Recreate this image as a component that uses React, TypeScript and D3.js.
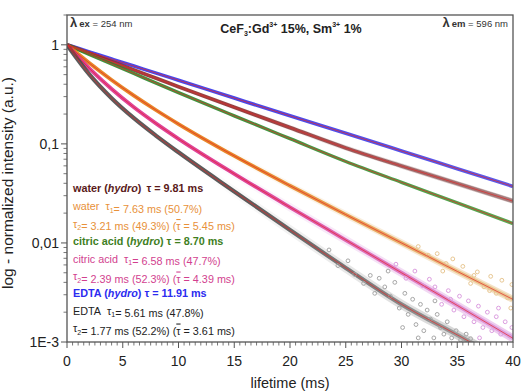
import * as d3 from "d3";

// sample times (ms) and values
const times = [0, 2, 4, 6, 8, 10, 15, 20, 25, 30, 35, 40];
const edtaHydro = [1, 0.848, 0.719, 0.61, 0.518, 0.439, 0.29, 0.192, 0.128, 0.0849, 0.0562, 0.0372];
const waterHydro = [1, 0.823, 0.677, 0.557, 0.459, 0.378, 0.234, 0.146, 0.091, 0.0598, 0.0398, 0.0264];
const citricHydro = [1, 0.8, 0.641, 0.513, 0.41, 0.329, 0.192, 0.1128, 0.0664, 0.0409, 0.0254, 0.0157];
const water = [1, 0.654, 0.442, 0.307, 0.2185, 0.1586, 0.0756, 0.0378, 0.0193, 0.01, 0.00516, 0.00269];
const citric = [1, 0.578, 0.358, 0.234, 0.16, 0.1124, 0.0498, 0.0229, 0.0107, 0.005, 0.00234, 0.00109];
const edta = [1, 0.503, 0.289, 0.1816, 0.1206, 0.0822, 0.0331, 0.0135, 0.0056, 0.0024, 0.00118, 0.00058];

// noisy tail points
const waterTail: [number, number][] = [
  [31.5, 0.0092], [32.4, 0.0075], [33.2, 0.0078], [34, 0.0062], [34.6, 0.0069],
  [35.5, 0.0058], [36.2, 0.0039], [36.8, 0.0051], [37.4, 0.0036], [38, 0.0046],
  [38.5, 0.0031], [39, 0.0042], [39.5, 0.0028], [39.9, 0.0038], [39.8, 0.0022],
  [37.9, 0.0033], [36.5, 0.0047], [33.7, 0.0052],
];
const citricTail: [number, number][] = [
  [29.5, 0.0061], [30.4, 0.0044], [31.2, 0.0052], [31.9, 0.0037], [32.5, 0.0043],
  [33, 0.0036], [33.6, 0.0024], [34.2, 0.0033], [34.7, 0.0021], [35.2, 0.0029],
  [35.6, 0.0018], [36, 0.0026], [36.5, 0.0016], [36.9, 0.0023], [37.3, 0.0014],
  [37.7, 0.002], [38.1, 0.0013], [38.5, 0.0018], [38.9, 0.0012], [39.3, 0.0016],
  [39.7, 0.00115], [39.9, 0.0014], [37, 0.0011], [38.7, 0.0022], [34.4, 0.0027],
];
const edtaTail: [number, number][] = [
  [23.5, 0.0085], [24.3, 0.0059], [25.2, 0.0066], [25.8, 0.0048], [26.6, 0.0039],
  [27.2, 0.0047], [28, 0.0044], [28.5, 0.0036], [29, 0.0029], [27.6, 0.0031],
  [29.4, 0.004], [29.8, 0.0022], [30.1, 0.0014], [30.3, 0.0031], [30.6, 0.0019],
  [31, 0.0027], [31.3, 0.0015], [31.5, 0.0011], [31.7, 0.0024], [32, 0.0013],
  [32.3, 0.0021], [32.6, 0.0017], [32.9, 0.0011], [33, 0.0026], [33.2, 0.0019],
  [33.5, 0.0014], [33.8, 0.0012], [34.1, 0.0016], [34.5, 0.0011], [34.9, 0.0013],
  [35.3, 0.00105], [35.8, 0.0012], [36.2, 0.00108], [28.8, 0.0052],
];

const xTicks = [0, 5, 10, 15, 20, 25, 30, 35, 40];
const yTicks = [1, 0.1, 0.01, 0.001];
const yTickLabels = ["1", "0,1", "0,01", "1E-3"];

const W = 521;
const H = 392;
const left = 67, right = 513, top = 15, bottom = 342;

const x = d3.scaleLinear().domain([0, 40]).range([left, right]);
const y = d3.scaleLog().domain([0.001, 2]).range([bottom, top]);

const series = [
  { id: "edtaH", values: edtaHydro, stops: ["#3434ea", "#4a4ae8"], width: 3.6, fuzz: 0, tail: [] as [number, number][] },
  { id: "waterH", values: waterHydro, stops: ["#8e2c2c", "#a07a7a"], width: 3.8, fuzz: 5, tail: [] as [number, number][] },
  { id: "citricH", values: citricHydro, stops: ["#2a8a2a", "#48a040"], width: 3.4, fuzz: 0, tail: [] as [number, number][] },
  { id: "water", values: water, stops: ["#e57a12", "#e8c792"], width: 3.8, fuzz: 7, tail: waterTail },
  { id: "citric", values: citric, stops: ["#dc2f8e", "#dc9ee0"], width: 3.8, fuzz: 8, tail: citricTail },
  { id: "edta", values: edta, stops: ["#4a4a4a", "#a6a6a6"], width: 4.2, fuzz: 9, tail: edtaTail },
];

const line = d3
  .line<number>()
  .x((_, i) => x(times[i]))
  .y((d) => y(d))
  .curve(d3.curveMonotoneX);

const font = "'Liberation Sans', Arial, sans-serif";

const Sub = ({ c }: { c: string }) => (
  <>
    <tspan fontSize={7} dy={2.5}>{c}</tspan>
    <tspan dy={-2.5}></tspan>
  </>
);

const Bar = () => <tspan style={{ textDecoration: "overline" }}>τ</tspan>;

export default function App() {
  const xMinor = d3.range(0, 40.001, 0.5).filter((t) => t % 5 !== 0);
  const yMinor: number[] = [];
  [0.001, 0.01, 0.1, 1].forEach((p) => {
    for (let k = 2; k <= 9; k++) if (p * k <= 2) yMinor.push(p * k);
  });
  const lx = 73;
  const ly = [192, 210, 227.5, 245, 262.5, 280, 297, 314.5, 332];

  return (
    <div style={{ position: "fixed", left: 0, top: 0 }}>
      <svg width={W} height={H} fontFamily={font} style={{ display: "block", background: "#fff" }}>
        <defs>
          <clipPath id="plot">
            <rect x={left} y={top} width={right - left} height={bottom - top} />
          </clipPath>
          {series.map((s) => (
            <linearGradient key={s.id} id={"g-" + s.id} gradientUnits="userSpaceOnUse" x1={x(0)} x2={x(40)} y1={0} y2={0}>
              <stop offset="0" stopColor={s.stops[0]} />
              <stop offset="0.4" stopColor={s.stops[0]} />
              <stop offset="1" stopColor={s.stops[1]} />
            </linearGradient>
          ))}
          {series.map((s) => (
            <linearGradient key={"f" + s.id} id={"f-" + s.id} gradientUnits="userSpaceOnUse" x1={x(0)} x2={x(40)} y1={0} y2={0}>
              <stop offset="0.3" stopColor={s.stops[1]} stopOpacity={0} />
              <stop offset="1" stopColor={s.stops[1]} stopOpacity={0.55} />
            </linearGradient>
          ))}
        </defs>

        <g clipPath="url(#plot)">
          {series.map((s) => (
            <g key={s.id}>
              {s.fuzz > 0 && (
                <path d={line(s.values) ?? ""} fill="none" stroke={`url(#f-${s.id})`} strokeWidth={s.fuzz} />
              )}
              <path d={line(s.values) ?? ""} fill="none" stroke={`url(#g-${s.id})`} strokeWidth={s.width} strokeOpacity={0.9} />
              {s.tail.map((p, i) => (
                <circle key={i} cx={x(p[0])} cy={y(p[1])} r={1.9} fill="none" stroke={s.stops[1]} strokeWidth={1} />
              ))}
            </g>
          ))}
          {series.map((s) => (
            <path key={"fit-" + s.id} d={line(s.values) ?? ""} fill="none" stroke="#e22828" strokeWidth={0.7} />
          ))}
        </g>

        {/* frame */}
        <rect x={left} y={top} width={right - left} height={bottom - top} fill="none" stroke="#555" strokeWidth={1.3} />

        {/* x axis */}
        {xTicks.map((t) => (
          <g key={t}>
            <line x1={x(t)} x2={x(t)} y1={bottom} y2={bottom + 6} stroke="#555" strokeWidth={1} />
            <text x={x(t)} y={366} textAnchor="middle" fontSize={14} fill="#222">{t}</text>
          </g>
        ))}
        {xMinor.map((t) => (
          <line key={t} x1={x(t)} x2={x(t)} y1={bottom} y2={bottom + 3.5} stroke="#555" strokeWidth={0.8} />
        ))}
        <text x={290} y={388} textAnchor="middle" fontSize={14.5} fill="#222">lifetime (ms)</text>

        {/* y axis */}
        {yTicks.map((v, i) => (
          <g key={v}>
            <line x1={left - 6} x2={left} y1={y(v)} y2={y(v)} stroke="#555" strokeWidth={1} />
            <text x={left - 8} y={y(v) + 5} textAnchor="end" fontSize={14} fill="#222">{yTickLabels[i]}</text>
          </g>
        ))}
        {yMinor.map((v) => (
          <line key={v} x1={left - 3.5} x2={left} y1={y(v)} y2={y(v)} stroke="#555" strokeWidth={0.8} />
        ))}
        <text transform={`translate(13,${183}) rotate(-90)`} textAnchor="middle" fontSize={15.5} fill="#222">
          log - normalized intensity (a.u.)
        </text>

        {/* header texts */}
        <text x={70} y={27} fill="#333">
          <tspan fontSize={13} fontWeight="bold">λ</tspan>
          <tspan fontSize={9.5} fontWeight="bold" dx={2}>ex</tspan>
          <tspan fontSize={9.5}> = 254 nm</tspan>
        </text>
        <text x={508} y={27} fill="#333" textAnchor="end">
          <tspan fontSize={13} fontWeight="bold">λ</tspan>
          <tspan fontSize={9.5} fontWeight="bold" dx={2}>em</tspan>
          <tspan fontSize={9.5}> = 596 nm</tspan>
        </text>
        <text x={291} y={33} textAnchor="middle" fontSize={12.5} fontWeight="bold" fill="#222">
          CeF<tspan fontSize={7} dy={3}>3</tspan>
          <tspan dy={-3}>:Gd</tspan>
          <tspan fontSize={7} dy={-6}>3+</tspan>
          <tspan dy={6}> 15%, Sm</tspan>
          <tspan fontSize={7} dy={-6}>3+</tspan>
          <tspan dy={6}> 1%</tspan>
        </text>

        {/* legend */}
        <g fontSize={10.8}>
          <text x={lx} y={ly[0]} fill="#5a1a1a" fontWeight="bold">
            water (<tspan fontStyle="italic">hydro</tspan>)<tspan dx={5}>τ = 9.81 ms</tspan>
          </text>
          <text x={lx} y={ly[1]} fill="#e8913a">
            water<tspan dx={6}>τ</tspan><Sub c="1" />= 7.63 ms (50.7%)
          </text>
          <text x={lx} y={ly[2]} fill="#e8913a">
            τ<Sub c="2" />= 3.21 ms (49.3%) (<Bar /> = 5.45 ms)
          </text>
          <text x={lx} y={ly[3]} fill="#3f7f1f" fontWeight="bold">
            citric acid (<tspan fontStyle="italic">hydro</tspan>) τ = 8.70 ms
          </text>
          <text x={lx} y={ly[4]} fill="#d23f8f">
            citric acid<tspan dx={6}>τ</tspan><Sub c="1" />= 6.58 ms (47.7%)
          </text>
          <text x={lx} y={ly[5]} fill="#d23f8f">
            τ<Sub c="2" />= 2.39 ms (52.3%) (<Bar /> = 4.39 ms)
          </text>
          <text x={lx} y={ly[6]} fill="#2c2cf0" fontWeight="bold">
            EDTA (<tspan fontStyle="italic">hydro</tspan>) τ = 11.91 ms
          </text>
          <text x={lx} y={ly[7]} fill="#222">
            EDTA<tspan dx={6}>τ</tspan><Sub c="1" />= 5.61 ms (47.8%)
          </text>
          <text x={lx} y={ly[8]} fill="#222">
            τ<Sub c="2" />= 1.77 ms (52.2%) (<Bar /> = 3.61 ms)
          </text>
        </g>
      </svg>
    </div>
  );
}
